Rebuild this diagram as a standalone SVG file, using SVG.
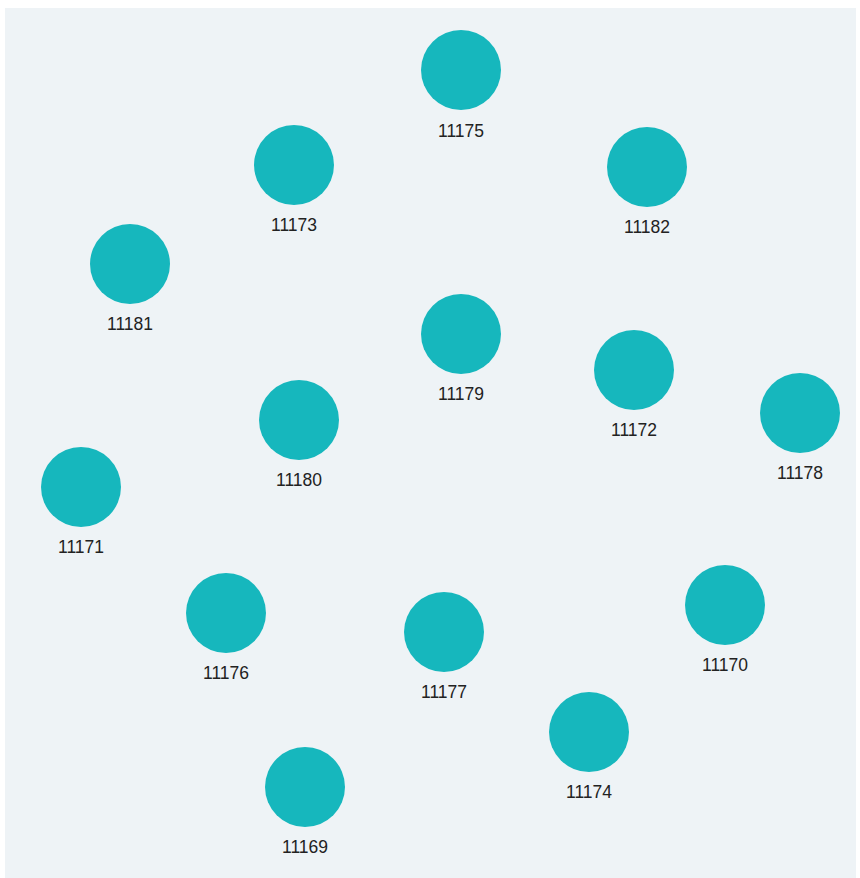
<svg xmlns="http://www.w3.org/2000/svg" width="860" height="878" viewBox="0 0 860 878">
<style>
.n{fill:#16b7bd}
.t{font-family:"Liberation Sans",Arial,sans-serif;font-size:17.5px;fill:#222;text-anchor:middle}
</style>
<rect x="0" y="0" width="860" height="878" fill="#ffffff"/>
<rect x="5" y="8" width="851" height="870" fill="#eef3f6"/>
<g id="edges"></g>
<g id="n11175"><circle class="n" cx="461" cy="70" r="40"/><text class="t" x="461" y="137">11175</text></g>
<g id="n11173"><circle class="n" cx="294" cy="165" r="40"/><text class="t" x="294" y="231">11173</text></g>
<g id="n11182"><circle class="n" cx="647" cy="167" r="40"/><text class="t" x="647" y="233">11182</text></g>
<g id="n11181"><circle class="n" cx="130" cy="264" r="40"/><text class="t" x="130" y="330">11181</text></g>
<g id="n11179"><circle class="n" cx="461" cy="334" r="40"/><text class="t" x="461" y="400">11179</text></g>
<g id="n11172"><circle class="n" cx="634" cy="370" r="40"/><text class="t" x="634" y="436">11172</text></g>
<g id="n11178"><circle class="n" cx="800" cy="413" r="40"/><text class="t" x="800" y="479">11178</text></g>
<g id="n11180"><circle class="n" cx="299" cy="420" r="40"/><text class="t" x="299" y="486">11180</text></g>
<g id="n11171"><circle class="n" cx="81" cy="487" r="40"/><text class="t" x="81" y="553">11171</text></g>
<g id="n11176"><circle class="n" cx="226" cy="613" r="40"/><text class="t" x="226" y="679">11176</text></g>
<g id="n11177"><circle class="n" cx="444" cy="632" r="40"/><text class="t" x="444" y="698">11177</text></g>
<g id="n11170"><circle class="n" cx="725" cy="605" r="40"/><text class="t" x="725" y="671">11170</text></g>
<g id="n11174"><circle class="n" cx="589" cy="732" r="40"/><text class="t" x="589" y="798">11174</text></g>
<g id="n11169"><circle class="n" cx="305" cy="787" r="40"/><text class="t" x="305" y="853">11169</text></g>
</svg>
